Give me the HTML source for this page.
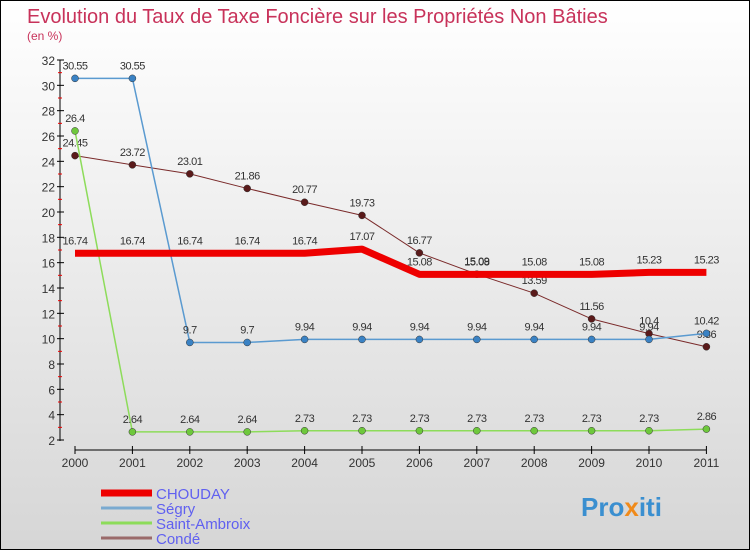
<!DOCTYPE html>
<html><head><meta charset="utf-8"><style>
body{margin:0}
#c{width:750px;height:550px;position:relative;box-sizing:border-box;border:1px solid #000;background:linear-gradient(#ffffff,#d6d6d6);font-family:"Liberation Sans",sans-serif;overflow:hidden}
</style></head><body>
<div id="c">
<svg id="s" width="748" height="548">
<text x="26" y="22" font-size="20" fill="#c8325a">Evolution du Taux de Taxe Foncière sur les Propriétés Non Bâties</text>
<text x="26" y="39" font-size="12" fill="#c8325a">(en %)</text>
<g id="ax"></g><g id="sr"></g><g id="lg"></g>
<text x="580" y="515" font-size="26" font-weight="bold" fill="#3a8fd0">Pro<tspan fill="#f08a1a">x</tspan>iti</text>
</svg></div>
<script>
const years=["2000","2001","2002","2003","2004","2005","2006","2007","2008","2009","2010","2011"];
const yTicks=[2,4,6,8,10,12,14,16,18,20,22,24,26,28,30,32];
const chouday=[16.74,16.74,16.74,16.74,16.74,17.07,15.08,15.08,15.08,15.08,15.23,15.23];
const segry=[30.55,30.55,9.7,9.7,9.94,9.94,9.94,9.94,9.94,9.94,9.94,10.42];
const ambroix=[26.4,2.64,2.64,2.64,2.73,2.73,2.73,2.73,2.73,2.73,2.73,2.86];
const conde=[24.45,23.72,23.01,21.86,20.77,19.73,16.77,15.09,13.59,11.56,10.4,9.36];
const names=["CHOUDAY","Ségry","Saint-Ambroix","Condé"];
const NS="http://www.w3.org/2000/svg";
const X=i=>74+i*57.4, Y=v=>439-(v-2)*(380/30);
function mk(p,t,a){const e=document.createElementNS(NS,t);for(const k in a)e.setAttribute(k,a[k]);p.appendChild(e);return e;}
const ax=document.getElementById('ax');
let e=mk(ax,'line',{x1:59,y1:Y(32),x2:59,y2:Y(2)+1,stroke:'#000'});

e=mk(ax,'line',{x1:X(0),y1:449,x2:X(11),y2:449,stroke:'#000'});

yTicks.forEach(v=>{mk(ax,'line',{x1:56,y1:Y(v),x2:63,y2:Y(v),stroke:'#000'});
 if(v<32)mk(ax,'line',{x1:57,y1:Y(v+1),x2:61,y2:Y(v+1),stroke:'#e00'});
 const t=mk(ax,'text',{x:54,y:Y(v)+5,'font-size':12,'text-anchor':'end',fill:'#333'});t.textContent=v;
 });
years.forEach((y,i)=>{mk(ax,'line',{x1:X(i),y1:445,x2:X(i),y2:453,stroke:'#000'});
 const t=mk(ax,'text',{x:X(i),y:466,'font-size':12,'text-anchor':'middle',fill:'#333'});t.textContent=y;
 });
const series=[[conde,'#7a2a2a','#5a1a1a',1,4,'conde'],[ambroix,'#8ddc5a','#6ec83c',1.5,4,'saint-ambroix'],[segry,'#5a9ad0','#3a82c4',1.5,4,'segry'],[chouday,'#ee0000','#ee0000',7,6,'chouday']];
const sr=document.getElementById('sr');
series.forEach(([d,c,f,w,r,n])=>{
 const g=mk(sr,'g',{});
 mk(g,'polyline',{points:d.map((v,i)=>X(i)+','+Y(v)).join(' '),fill:'none',stroke:c,'stroke-width':w,'stroke-linejoin':'round'});
 d.forEach((v,i)=>{const p=mk(g,'circle',{cx:X(i),cy:Y(v),r:n=='chouday'?0:3.5,fill:f,stroke:'#333','stroke-width':0.5});
  
  const t=mk(g,'text',{x:X(i),y:Y(v)-9,'font-size':11,'text-anchor':'middle',fill:'#333','letter-spacing':'-0.5'});t.textContent=v;
  });
});
const lg=document.getElementById('lg');
const lc=['#ee0000','#7aaad0','#8ddc5a','#9a6a6a'],lw=[7,3,3,3];
names.forEach((n,i)=>{const y=492+i*15;
 const g=mk(lg,'g',{});
 mk(g,'line',{x1:100,y1:y,x2:151,y2:y,stroke:lc[i],'stroke-width':lw[i]});
 const t=mk(g,'text',{x:155,y:y+6,'font-size':15,fill:'#6060f0'});t.textContent=n;});
</script></body></html>
